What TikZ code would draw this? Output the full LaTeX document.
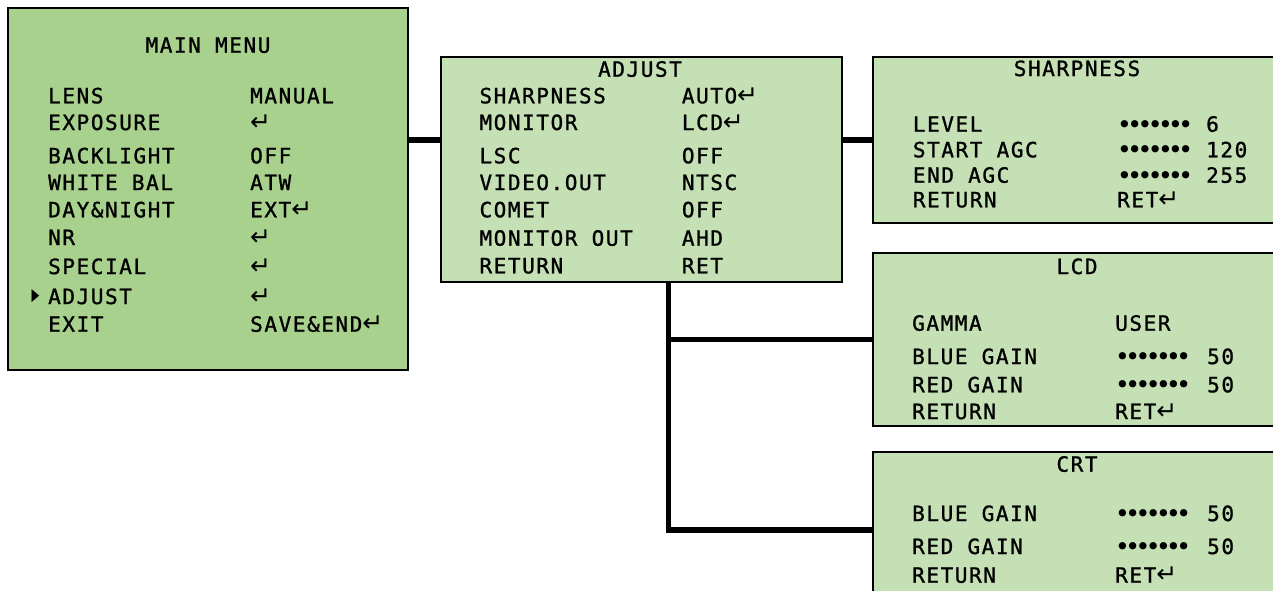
\documentclass[tikz,border=0pt]{standalone}
\usepackage{fontspec}
\usepackage{graphicx}
\usepackage{tikz}
\usetikzlibrary{positioning,calc}

\newfontfamily\osdfont[LetterSpace=7.5,FakeBold=1.2]{DejaVu Sans Mono}
\newfontfamily\osdsym{DejaVu Sans}
\newfontfamily\osddots[LetterSpace=-18.2]{DejaVu Sans}
\definecolor{mainfill}{HTML}{A9D18E}
\definecolor{subfill}{HTML}{C5E0B4}
\newcommand{\enterkey}{{\osdsym\fontsize{25}{25}\selectfont ↵}}
\newcommand{\dotrow}{{\osddots\fontsize{25}{25}\selectfont\raisebox{-1.5pt}{•••••••}}}

\begin{document}
\begin{tikzpicture}[x=1pt,y=-1pt]
 \clip (0,0) rectangle (1273,590);

\tikzstyle{menubox}=[draw,line width=2pt,inner sep=0pt,outer sep=0pt,anchor=north west]
\tikzstyle{link}=[line width=5.5pt]
\tikzstyle{osd}=[inner sep=0pt,anchor=base west,font=\osdfont\fontsize{21}{24}\selectfont]
\tikzstyle{osdtitle}=[osd,anchor=base]

   %menu boxes
   \node (main) [menubox,fill=mainfill,minimum width=400pt,minimum height=362pt] at (8,8) {};
   \node (adjust) [menubox,fill=subfill,minimum width=401pt,minimum height=225pt] at (441,57) {};
   \node (sharp) [menubox,fill=subfill,minimum width=409pt,minimum height=166pt] at (873,57) {};
   \node (lcd) [menubox,fill=subfill,minimum width=409pt,minimum height=173pt] at (873,253) {};
   \node (crt) [menubox,fill=subfill,minimum width=409pt,minimum height=168pt] at (873,452) {};

   %connectors
   \coordinate (row_link) at (425,140);
   \coordinate (trunk) at (668.5,400);
   \coordinate (crt_link) at (770,530);
   \draw[link] (main.east |- row_link) -- (adjust.west |- row_link);
   \draw[link] (adjust.east |- row_link) -- (sharp.west |- row_link);
   \draw[link] (adjust.south -| trunk) |- (crt.west |- crt_link);
   \draw[link] (trunk |- lcd.west) -- (lcd.west);

   %main menu
   \node (main_title) [osdtitle] at (208,52.7) {MAIN MENU};
   \node (lens_l) [osd] at (48,103.3) {LENS};
   \node (lens_v) [osd] at (250,103.3) {MANUAL};
   \node (expo_l) [osd] at (48,130) {EXPOSURE};
   \node (expo_v) [osd] at (250,130) {\enterkey};
   \node (blc_l) [osd] at (48,163.3) {BACKLIGHT};
   \node (blc_v) [osd] at (250,163.3) {OFF};
   \node (wb_l) [osd] at (48,190) {WHITE BAL};
   \node (wb_v) [osd] at (250,190) {ATW};
   \node (dn_l) [osd] at (48,217.3) {DAY\&NIGHT};
   \node (dn_v) [osd] at (250,217.3) {EXT\enterkey};
   \node (nr_l) [osd] at (48,245) {NR};
   \node (nr_v) [osd] at (250,245) {\enterkey};
   \node (sp_l) [osd] at (48,274) {SPECIAL};
   \node (sp_v) [osd] at (250,274) {\enterkey};
   \node (adj_l) [osd] at (48,304) {ADJUST};
   \node (adj_v) [osd] at (250,304) {\enterkey};
   \node (exit_l) [osd] at (48,331.7) {EXIT};
   \node (exit_v) [osd] at (250,331.7) {SAVE\&END\enterkey};
   \node (cursor) [inner sep=0pt,font=\osdsym\fontsize{17}{17}\selectfont] at (35.5,296.5) {\scalebox{0.6}[1]{▶}};

   %adjust menu
   \node (adjust_title) [osdtitle] at (640,76.7) {ADJUST};
   \node (shp_l) [osd] at (479.3,103.3) {SHARPNESS};
   \node (shp_v) [osd] at (681.7,103.3) {AUTO\enterkey};
   \node (mon_l) [osd] at (479.3,130) {MONITOR};
   \node (mon_v) [osd] at (681.7,130) {LCD\enterkey};
   \node (lsc_l) [osd] at (479.3,163.3) {LSC};
   \node (lsc_v) [osd] at (681.7,163.3) {OFF};
   \node (vout_l) [osd] at (479.3,190) {VIDEO.OUT};
   \node (vout_v) [osd] at (681.7,190) {NTSC};
   \node (comet_l) [osd] at (479.3,217.3) {COMET};
   \node (comet_v) [osd] at (681.7,217.3) {OFF};
   \node (mout_l) [osd] at (479.3,245.7) {MONITOR OUT};
   \node (mout_v) [osd] at (681.7,245.7) {AHD};
   \node (aret_l) [osd] at (479.3,273.3) {RETURN};
   \node (aret_v) [osd] at (681.7,273.3) {RET};

   %sharpness menu
   \node (sharp_title) [osdtitle] at (1077,76) {SHARPNESS};
   \node (lvl_l) [osd] at (912.7,131.7) {LEVEL};
   \node (lvl_d) [osd] at (1117,131.7) {\dotrow};
   \node (lvl_v) [osd] at (1206,131.7) {6};
   \node (sagc_l) [osd] at (912.7,157.3) {START AGC};
   \node (sagc_d) [osd] at (1117,157.3) {\dotrow};
   \node (sagc_v) [osd] at (1206,157.3) {120};
   \node (eagc_l) [osd] at (912.7,182.7) {END AGC};
   \node (eagc_d) [osd] at (1117,182.7) {\dotrow};
   \node (eagc_v) [osd] at (1206,182.7) {255};
   \node (sret_l) [osd] at (912.7,207.3) {RETURN};
   \node (sret_v) [osd] at (1117,207.3) {RET\enterkey};

   %lcd menu
   \node (lcd_title) [osdtitle] at (1077,274) {LCD};
   \node (gam_l) [osd] at (912,330.7) {GAMMA};
   \node (gam_v) [osd] at (1115,330.7) {USER};
   \node (lblue_l) [osd] at (912,364) {BLUE GAIN};
   \node (lblue_d) [osd] at (1115,364) {\dotrow};
   \node (lblue_v) [osd] at (1207,364) {50};
   \node (lred_l) [osd] at (912,392.3) {RED GAIN};
   \node (lred_d) [osd] at (1115,392.3) {\dotrow};
   \node (lred_v) [osd] at (1207,392.3) {50};
   \node (lret_l) [osd] at (912,419) {RETURN};
   \node (lret_v) [osd] at (1115,419) {RET\enterkey};

   %crt menu
   \node (crt_title) [osdtitle] at (1077,471.7) {CRT};
   \node (cblue_l) [osd] at (912,521) {BLUE GAIN};
   \node (cblue_d) [osd] at (1115,521) {\dotrow};
   \node (cblue_v) [osd] at (1207,521) {50};
   \node (cred_l) [osd] at (912,554) {RED GAIN};
   \node (cred_d) [osd] at (1115,554) {\dotrow};
   \node (cred_v) [osd] at (1207,554) {50};
   \node (cret_l) [osd] at (912,582.7) {RETURN};
   \node (cret_v) [osd] at (1115,582.7) {RET\enterkey};

\end{tikzpicture}
\end{document}
